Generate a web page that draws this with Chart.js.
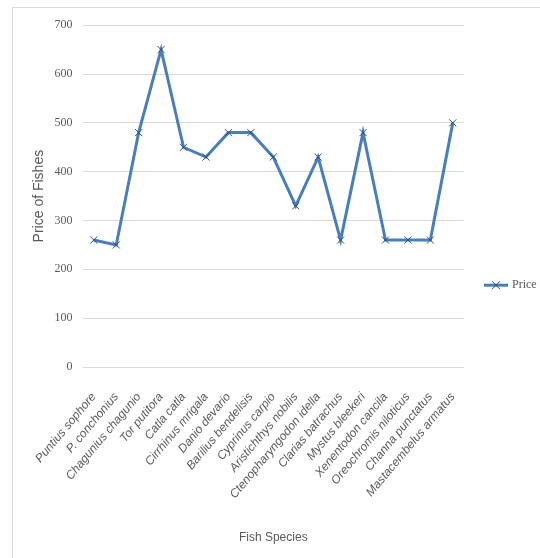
<!DOCTYPE html>
<html>
<head>
<meta charset="utf-8">
<script src="https://cdn.jsdelivr.net/npm/chart.js@4.4.1/dist/chart.umd.min.js"></script>
<style>
  html, body { margin: 0; padding: 0; background: #fff; overflow: hidden; }
  #frame { position: absolute; left: 12px; top: 7px; width: 540px; height: 560px; border: 1px solid #d9d9d9; background: #fff; }
  #chart { display: block; }
</style>
</head>
<body>
<div id="frame"><canvas id="chart" width="527" height="550"></canvas></div>
<script>
// price of each species
const species = [
    'Puntius sophore', 'P. conchonius', 'Chagunius chagunio', 'Tor putitora',
    'Catla catla', 'Cirrhinus mrigala', 'Danio devario', 'Barilius bendelisis',
    'Cyprinus carpio', 'Aristichthys nobilis', 'Ctenopharyngodon idella',
    'Clarias batrachus', 'Mystus bleekeri', 'Xenentodon cancila',
    'Oreochromis niloticus', 'Channa punctatus', 'Mastacembelus armatus'
];
const prices = [260, 250, 480, 650, 450, 430, 480, 480, 430, 330, 430, 260, 480, 260, 260, 260, 500];
const seriesName = 'Price';
const yTicks = [0, 100, 200, 300, 400, 500, 600, 700];

const lineColor = '#4a7ebb';
const markColor = '#2c4d75';
const textColor = '#595959';

// little x marker, used for the legend entry
function drawCross(ctx, x, y, r) {
    ctx.save();
    ctx.strokeStyle = markColor;
    ctx.lineWidth = 1;
    ctx.beginPath();
    ctx.moveTo(x - r, y - r); ctx.lineTo(x + r, y + r);
    ctx.moveTo(x + r, y - r); ctx.lineTo(x - r, y + r);
    ctx.stroke();
    ctx.restore();
}

// legend to the right of the plot, a bit below the middle
const sideLegend = {
    id: 'sideLegend',
    afterDraw(chart) {
        const ctx = chart.ctx;
        const area = chart.chartArea;
        const x = area.right + 20;
        const y = area.top + 260;
        ctx.save();
        ctx.strokeStyle = lineColor;
        ctx.lineWidth = 3;
        ctx.beginPath();
        ctx.moveTo(x, y);
        ctx.lineTo(x + 24, y);
        ctx.stroke();
        drawCross(ctx, x + 12, y, 4);
        ctx.fillStyle = textColor;
        ctx.font = '12px "Liberation Serif"';
        ctx.textBaseline = 'middle';
        ctx.fillText(chart.data.datasets[0].label, x + 28, y);
        ctx.restore();
    }
};

const ctx = document.getElementById('chart').getContext('2d');
const chart = new Chart(ctx, {
    type: 'line',
    data: {
        labels: species,
        datasets: [{
            label: seriesName,
            data: prices,
            borderColor: lineColor,
            borderWidth: 3,
            fill: false,
            tension: 0,
            pointStyle: 'crossRot',
            pointRadius: 5,
            pointBorderWidth: 1,
            pointBorderColor: markColor,
            pointBackgroundColor: markColor
        }]
    },
    options: {
        responsive: false,
        animation: false,
        layout: { padding: { top: 17, right: 76, left: 0, bottom: 0 } },
        plugins: {
            legend: { display: false },
            tooltip: { enabled: false }
        },
        scales: {
            x: {
                offset: true,
                grid: { display: false, drawTicks: false },
                border: { display: false },
                ticks: {
                    autoSkip: false,
                    minRotation: 50,
                    maxRotation: 50,
                    padding: 23,
                    color: textColor,
                    font: { family: 'Liberation Sans', size: 12, style: 'italic' }
                },
                title: {
                    display: true,
                    text: 'Fish Species',
                    color: textColor,
                    font: { family: 'Liberation Sans', size: 12 },
                    padding: { top: 0, bottom: 13 }
                },
                afterFit(scale) { scale.height = 191; }
            },
            y: {
                min: 0,
                max: 700,
                afterBuildTicks(scale) { scale.ticks = yTicks.map(v => ({ value: v })); },
                grid: { color: '#d9d9d9', drawTicks: false },
                border: { display: false },
                ticks: {
                    padding: 10,
                    color: textColor,
                    font: { family: 'Liberation Serif', size: 12 }
                },
                title: {
                    display: true,
                    text: 'Price of Fishes',
                    color: textColor,
                    font: { family: 'Liberation Sans', size: 14 },
                    padding: { top: 17, bottom: 0 }
                },
                afterFit(scale) { scale.width = 69; }
            }
        }
    },
    plugins: [sideLegend]
});
</script>
</body>
</html>
